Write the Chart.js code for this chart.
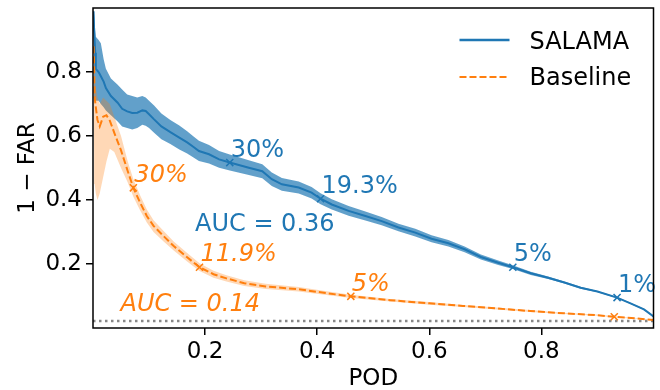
<!DOCTYPE html>
<html>
<head>
<meta charset="utf-8">
<script src="https://cdn.jsdelivr.net/npm/chart.js@4.4.1/dist/chart.umd.min.js"></script>
<style>
  html, body { margin: 0; padding: 0; background: #fff; }
  #wrap { width: 660px; height: 390px; }
</style>
</head>
<body>
<div id="wrap"><canvas id="rocChart" width="660" height="390"></canvas></div>
<script>
// SALAMA curve (POD vs 1 - FAR) with its spread
const salamaPod = [0.001, 0.002, 0.004, 0.005, 0.010, 0.014, 0.019, 0.023, 0.032, 0.044, 0.052, 0.061, 0.070, 0.079,
    0.088, 0.094, 0.100, 0.109, 0.122, 0.138, 0.154, 0.168, 0.180, 0.189, 0.207, 0.225, 0.244, 0.278, 0.302, 0.319,
    0.337, 0.367, 0.390, 0.406, 0.426, 0.456, 0.486, 0.515, 0.545, 0.575, 0.604, 0.634, 0.663, 0.692, 0.723, 0.749,
    0.781, 0.812, 0.841, 0.870, 0.900, 0.935, 0.959, 0.983, 1.000];
const salamaSkill = [0.99, 0.93, 0.86, 0.81, 0.80, 0.787, 0.77, 0.75, 0.725, 0.704, 0.685, 0.677, 0.672, 0.673,
    0.68, 0.678, 0.668, 0.652, 0.63, 0.612, 0.595, 0.58, 0.565, 0.553, 0.543, 0.527, 0.517, 0.501, 0.49, 0.465,
    0.449, 0.439, 0.423, 0.404, 0.386, 0.366, 0.35, 0.334, 0.314, 0.298, 0.279, 0.265, 0.246, 0.222, 0.204, 0.19,
    0.171, 0.157, 0.142, 0.126, 0.114, 0.095, 0.077, 0.058, 0.036];
const salamaHigh = [1.0, 0.98, 0.93, 0.91, 0.90, 0.89, 0.84, 0.81, 0.78, 0.76, 0.745, 0.73, 0.725, 0.72,
    0.725, 0.72, 0.71, 0.695, 0.67, 0.65, 0.633, 0.615, 0.598, 0.585, 0.572, 0.553, 0.542, 0.524, 0.512, 0.486,
    0.469, 0.458, 0.441, 0.421, 0.402, 0.381, 0.364, 0.347, 0.326, 0.31, 0.29, 0.275, 0.255, 0.23, 0.211, 0.196,
    0.176, 0.161, 0.145, 0.129, 0.116, 0.097, 0.079, 0.06, 0.037];
const salamaLow = [0.72, 0.72, 0.72, 0.71, 0.71, 0.70, 0.69, 0.68, 0.665, 0.645, 0.63, 0.625, 0.62, 0.625,
    0.635, 0.632, 0.625, 0.61, 0.59, 0.575, 0.558, 0.545, 0.532, 0.522, 0.514, 0.501, 0.492, 0.478, 0.468, 0.444,
    0.429, 0.42, 0.405, 0.387, 0.37, 0.351, 0.336, 0.321, 0.302, 0.286, 0.268, 0.255, 0.237, 0.214, 0.197, 0.184,
    0.166, 0.153, 0.139, 0.123, 0.112, 0.093, 0.075, 0.056, 0.034];

// Baseline curve with its spread
const basePod = [0.001, 0.002, 0.003, 0.005, 0.008, 0.012, 0.018, 0.024, 0.030, 0.038, 0.050, 0.062, 0.072, 0.084,
    0.096, 0.108, 0.126, 0.144, 0.168, 0.190, 0.215, 0.238, 0.270, 0.308, 0.367, 0.420, 0.460, 0.530, 0.600, 0.660,
    0.720, 0.780, 0.840, 0.900, 0.930, 0.970, 1.000];
const baseSkill = [0.88, 0.82, 0.72, 0.69, 0.65, 0.63, 0.66, 0.665, 0.648, 0.61, 0.555, 0.49, 0.438, 0.392,
    0.35, 0.319, 0.287, 0.256, 0.221, 0.19, 0.168, 0.155, 0.14, 0.13, 0.121, 0.108, 0.099, 0.087, 0.077, 0.069,
    0.061, 0.053, 0.046, 0.04, 0.035, 0.03, 0.025];
const baseHigh = [0.90, 0.86, 0.78, 0.75, 0.72, 0.70, 0.72, 0.71, 0.70, 0.66, 0.60, 0.52, 0.465, 0.415,
    0.37, 0.337, 0.303, 0.27, 0.234, 0.202, 0.179, 0.165, 0.149, 0.138, 0.128, 0.114, 0.104, 0.091, 0.081, 0.072,
    0.064, 0.056, 0.048, 0.042, 0.037, 0.031, 0.026];
const baseLow = [0.70, 0.55, 0.45, 0.42, 0.40, 0.42, 0.47, 0.52, 0.56, 0.55, 0.50, 0.455, 0.41, 0.368,
    0.33, 0.30, 0.27, 0.242, 0.208, 0.178, 0.157, 0.145, 0.131, 0.122, 0.114, 0.102, 0.094, 0.083, 0.073, 0.066,
    0.058, 0.05, 0.044, 0.038, 0.033, 0.029, 0.024];

// marked thresholds
const salamaMarkPod = [0.244, 0.406, 0.749, 0.935];
const salamaMarkSkill = [0.517, 0.404, 0.190, 0.095];
const salamaMarkText = ['30%', '19.3%', '5%', '1%'];
const baseMarkPod = [0.072, 0.190, 0.460, 0.930];
const baseMarkSkill = [0.438, 0.190, 0.099, 0.035];
const baseMarkText = ['30%', '11.9%', '5%', ''];

const salamaAuc = {text: 'AUC = 0.36', x: 0.182, y: 0.302};
const baseAuc = {text: 'AUC = 0.14', x: 0.049, y: 0.053};
const climatology = 0.022;

const xTicks = [0.2, 0.4, 0.6, 0.8];
const yTicks = [0.2, 0.4, 0.6, 0.8];

const BLUE = '#1f77b4';
const ORANGE = '#ff7f0e';
const FONT = '"DejaVu Sans", sans-serif';

function pts(xs, ys) {
    return xs.map((x, i) => ({x: x, y: ys[i]}));
}

function plain(data, extra) {
    return Object.assign({
        data: data,
        borderWidth: 0,
        pointRadius: 0,
        tension: 0,
        fill: false
    }, extra);
}

// frame, annotations and legend
const decorations = {
    id: 'decorations',
    afterDatasetsDraw(chart) {
        const {ctx, chartArea: a, scales: {x, y}} = chart;
        ctx.save();

        ctx.textAlign = 'left';
        ctx.textBaseline = 'bottom';
        ctx.font = '24px ' + FONT;
        ctx.fillStyle = BLUE;
        salamaMarkText.forEach((t, i) => {
            ctx.fillText(t, x.getPixelForValue(salamaMarkPod[i]) + 1, y.getPixelForValue(salamaMarkSkill[i]));
        });
        ctx.font = 'italic 24px ' + FONT;
        ctx.fillStyle = ORANGE;
        baseMarkText.forEach((t, i) => {
            ctx.fillText(t, x.getPixelForValue(baseMarkPod[i]) + 1, y.getPixelForValue(baseMarkSkill[i]));
        });

        ctx.textBaseline = 'alphabetic';
        ctx.font = '24px ' + FONT;
        ctx.fillStyle = BLUE;
        ctx.fillText(salamaAuc.text, x.getPixelForValue(salamaAuc.x), y.getPixelForValue(salamaAuc.y));
        ctx.font = 'italic 24px ' + FONT;
        ctx.fillStyle = ORANGE;
        ctx.fillText(baseAuc.text, x.getPixelForValue(baseAuc.x), y.getPixelForValue(baseAuc.y));

        // frame
        ctx.strokeStyle = '#000';
        ctx.lineWidth = 1.5;
        ctx.strokeRect(a.left, a.top, a.right - a.left, a.bottom - a.top);

        // legend
        const lx = a.right - 194, tx = a.right - 124;
        ctx.lineWidth = 2.5;
        ctx.strokeStyle = BLUE;
        ctx.beginPath(); ctx.moveTo(lx, a.top + 32); ctx.lineTo(lx + 50, a.top + 32); ctx.stroke();
        ctx.strokeStyle = ORANGE;
        ctx.lineWidth = 2;
        ctx.setLineDash([7, 3]);
        ctx.beginPath(); ctx.moveTo(lx, a.top + 69); ctx.lineTo(lx + 50, a.top + 69); ctx.stroke();
        ctx.setLineDash([]);
        ctx.fillStyle = '#000';
        ctx.font = '24px ' + FONT;
        ctx.fillText('SALAMA', tx, a.top + 41);
        ctx.fillText('Baseline', tx, a.top + 77);

        ctx.restore();
    }
};

function noPad(axis) {
    axis.paddingTop = 0;
    axis.paddingBottom = 0;
    axis.paddingLeft = 0;
    axis.paddingRight = 0;
}

const ctx = document.getElementById('rocChart').getContext('2d');
const rocChart = new Chart(ctx, {
    type: 'line',
    data: {
        datasets: [
            plain(pts(salamaMarkPod, salamaMarkSkill), {
                showLine: false, pointStyle: 'crossRot', pointRadius: 5, pointBorderWidth: 1.5,
                borderColor: BLUE, pointBorderColor: BLUE
            }),
            plain(pts(baseMarkPod, baseMarkSkill), {
                showLine: false, pointStyle: 'crossRot', pointRadius: 5, pointBorderWidth: 1.5,
                borderColor: ORANGE, pointBorderColor: ORANGE
            }),
            plain(pts(basePod, baseSkill), {borderColor: ORANGE, borderWidth: 2, borderDash: [7, 3]}),
            plain(pts(basePod, baseHigh), {fill: '+1', backgroundColor: 'rgba(255,127,14,0.3)'}),
            plain(pts(basePod, baseLow)),
            plain(pts(salamaPod, salamaSkill), {borderColor: BLUE, borderWidth: 2}),
            plain(pts(salamaPod, salamaHigh), {fill: '+1', backgroundColor: 'rgba(31,119,180,0.7)'}),
            plain(pts(salamaPod, salamaLow)),
            plain([{x: 0, y: climatology}, {x: 1, y: climatology}], {
                borderColor: '#888888', borderWidth: 2.5, borderDash: [2.5, 3.5]
            })
        ]
    },
    options: {
        responsive: false,
        animation: false,
        events: [],
        layout: {padding: {left: 0, right: 4, top: 8, bottom: 0}},
        plugins: {
            legend: {display: false},
            tooltip: {enabled: false}
        },
        scales: {
            x: {
                type: 'linear',
                min: 0,
                max: 1,
                afterBuildTicks: axis => { axis.ticks = xTicks.map(v => ({value: v})); },
                afterFit: axis => { axis.height = 62; noPad(axis); },
                ticks: {
                    callback: v => v.toFixed(1),
                    color: '#000',
                    font: {family: 'DejaVu Sans', size: 23},
                    padding: 3,
                    maxRotation: 0,
                    autoSkip: false
                },
                grid: {drawOnChartArea: false, drawTicks: true, tickLength: 7, color: '#000', lineWidth: 1.5},
                border: {display: false},
                title: {
                    display: true,
                    text: 'POD',
                    color: '#000',
                    font: {family: 'DejaVu Sans', size: 23, lineHeight: 1},
                    padding: {top: 0, bottom: -1}
                }
            },
            y: {
                min: 0,
                max: 1,
                afterBuildTicks: axis => { axis.ticks = yTicks.map(v => ({value: v})); },
                afterFit: axis => { axis.width = 93; noPad(axis); },
                ticks: {
                    callback: v => v.toFixed(1),
                    color: '#000',
                    font: {family: 'DejaVu Sans', size: 23},
                    padding: 4
                },
                grid: {drawOnChartArea: false, drawTicks: true, tickLength: 7, color: '#000', lineWidth: 1.5},
                border: {display: false},
                title: {
                    display: true,
                    text: '1 \u2212 FAR',
                    color: '#000',
                    font: {family: 'DejaVu Sans', size: 23, lineHeight: 1},
                    padding: {top: 17, bottom: 0}
                }
            }
        }
    },
    plugins: [decorations]
});
</script>
</body>
</html>
